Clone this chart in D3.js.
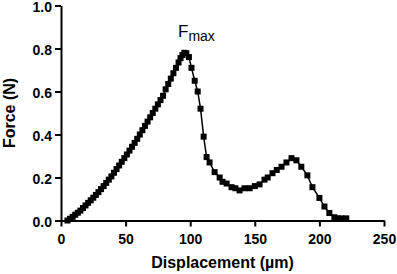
<!DOCTYPE html>
<html lang="en">
<head>
  <meta charset="UTF-8">
  <title>Force vs displacement</title>
  <style>
    * {
      margin: 0;
      padding: 0;
    }
    body {
      background: #fff;
    }
    text {
      font-family: "Liberation Sans", Arial, sans-serif;
    }
  </style>
</head>
<body>
  <script src="https://d3js.org/d3.v7.min.js"></script>
  <script>
    // displacement (µm) and force (N)
    const displacement = [
      5, 7, 9, 11, 13, 15, 17, 19, 21, 23, 25, 27, 29, 31, 33, 35, 37, 39,
      41, 43, 45, 47, 49, 51, 53, 55, 57, 59, 61, 63, 65, 67, 69, 71, 73, 75,
      77, 79, 81, 83, 85, 87, 89, 91, 92.5, 94, 95.5, 97, 99, 101, 103.5,
      105.8, 108, 110.4, 112.7, 115, 118.9, 122.8, 125, 128.2, 132, 135,
      138.2, 142, 146, 150, 153.7, 157.5, 160, 163.7, 167, 170.7, 174.5,
      178.4, 182.2, 186, 190.7, 194.6, 200, 203.9, 207.7, 211.6, 214, 217, 220.8
    ];
    const force = [
      0.0, 0.008, 0.017, 0.027, 0.036, 0.046, 0.058, 0.07, 0.082, 0.094, 0.106,
      0.119, 0.132, 0.146, 0.16, 0.175, 0.19, 0.205, 0.222, 0.239, 0.256, 0.273,
      0.29, 0.307, 0.325, 0.343, 0.361, 0.38, 0.40, 0.42, 0.44, 0.46, 0.48, 0.50,
      0.52, 0.54, 0.56, 0.58, 0.61, 0.635, 0.66, 0.685, 0.71, 0.735, 0.755, 0.77,
      0.78, 0.778, 0.76, 0.71, 0.65, 0.60, 0.52, 0.39, 0.295, 0.27, 0.225, 0.20,
      0.18, 0.172, 0.155, 0.15, 0.14, 0.15, 0.15, 0.16, 0.168, 0.19, 0.2, 0.22,
      0.235, 0.25, 0.27, 0.29, 0.28, 0.25, 0.21, 0.155, 0.105, 0.065, 0.035,
      0.015, 0.01, 0.01, 0.01
    ];
    const xTicks = [0, 50, 100, 150, 200, 250];
    const yTicks = [0, 0.2, 0.4, 0.6, 0.8, 1.0];

    const width = 397;
    const height = 274;
    const padding = {
      left: 61,
      right: 13,
      top: 5.5,
      bottom: 53.5,
    };

    const ds = displacement.map((d, i) => ({ x: d, y: force[i] }));

    const xScale = d3.scaleLinear()
      .domain([0, 250])
      .range([padding.left, width - padding.right]);

    const yScale = d3.scaleLinear()
      .domain([0, 1])
      .range([height - padding.bottom, padding.top]);

    const svg = d3.select('body')
      .append('svg')
      .attr('width', width)
      .attr('height', height);

    const xAxis = d3.axisBottom(xScale)
      .tickValues(xTicks)
      .tickSizeInner(6)
      .tickSizeOuter(0)
      .tickPadding(8)
      .tickFormat(d3.format('d'));

    const yAxis = d3.axisLeft(yScale)
      .tickValues(yTicks)
      .tickSizeInner(6)
      .tickSizeOuter(0)
      .tickPadding(3)
      .tickFormat(d3.format('.1f'));

    const gx = svg.append('g')
      .attr('transform', `translate(0, ${yScale(0)})`)
      .call(xAxis);

    const gy = svg.append('g')
      .attr('transform', `translate(${xScale(0)}, 0)`)
      .call(yAxis);

    [gx, gy].forEach(g => {
      g.selectAll('path, line')
        .attr('stroke', '#000')
        .attr('stroke-width', 2);
      g.selectAll('text')
        .attr('fill', '#000')
        .style('font-family', '"Liberation Sans", Arial, sans-serif')
        .style('font-size', '14px')
        .style('font-weight', 'bold');
    });
    gy.selectAll('text').attr('dy', '0.45em');

    // curve
    const line = d3.line()
      .x(d => xScale(d.x))
      .y(d => yScale(d.y));

    svg.append('path')
      .datum(ds)
      .attr('d', line)
      .attr('fill', 'none')
      .attr('stroke', '#000')
      .attr('stroke-width', 1.5);

    const size = 6;
    svg.selectAll('rect.pt')
      .data(ds)
      .enter()
      .append('rect')
      .attr('class', 'pt')
      .attr('x', d => xScale(d.x) - size / 2)
      .attr('y', d => yScale(d.y) - size / 2)
      .attr('width', size)
      .attr('height', size)
      .attr('fill', '#000');

    // axis titles
    svg.append('text')
      .attr('x', (xScale(0) + xScale(250)) / 2)
      .attr('y', 268)
      .attr('text-anchor', 'middle')
      .style('font-size', '16px')
      .style('font-weight', 'bold')
      .text('Displacement (µm)');

    svg.append('text')
      .attr('transform', `translate(15, ${(yScale(0) + yScale(1)) / 2}) rotate(-90)`)
      .attr('text-anchor', 'middle')
      .style('font-size', '16px')
      .style('font-weight', 'bold')
      .text('Force (N)');

    // Fmax label
    const fmax = svg.append('text')
      .attr('x', 178)
      .attr('y', 37)
      .style('font-size', '17px');
    fmax.append('tspan').text('F');
    fmax.append('tspan')
      .attr('dy', 4)
      .style('font-size', '14px')
      .text('max');
  </script>
</body>
</html>
